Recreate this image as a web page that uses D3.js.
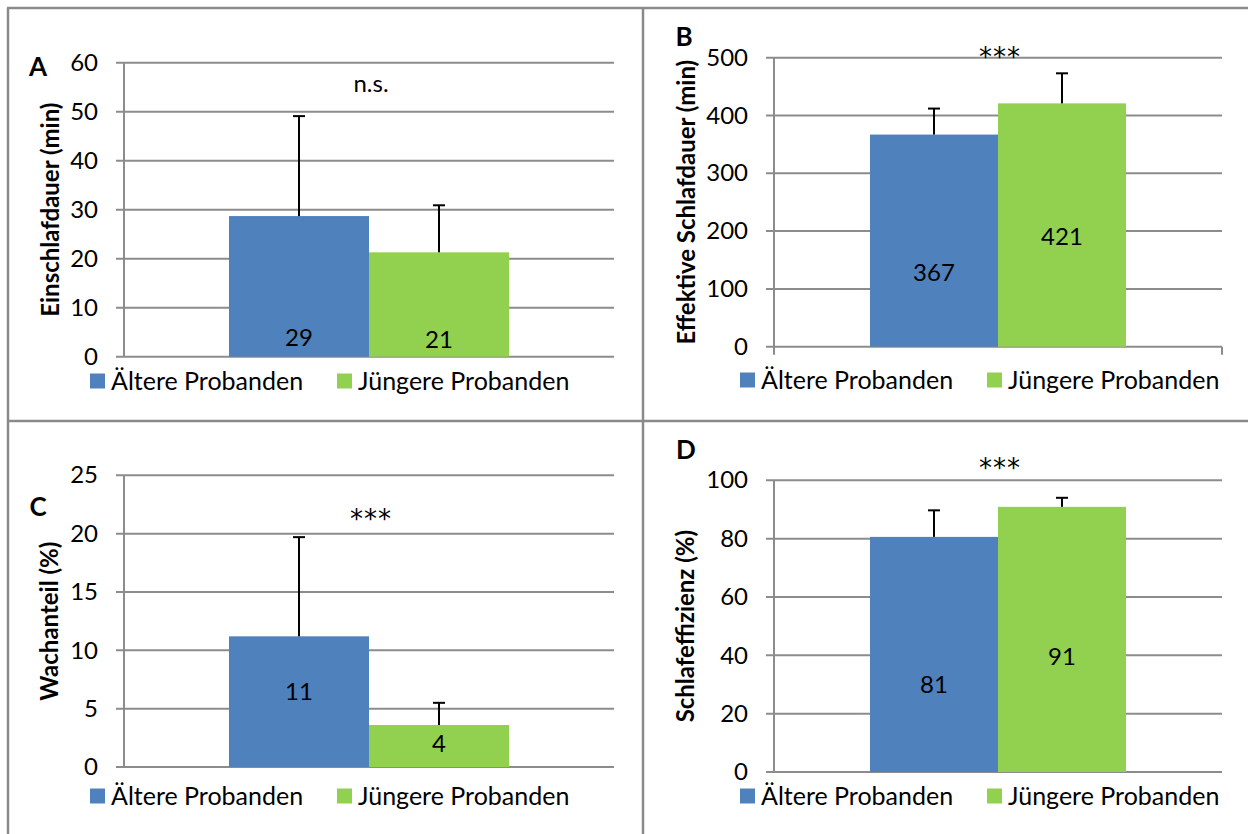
<!DOCTYPE html>
<html>
<head>
<meta charset="utf-8">
<script src="https://cdn.jsdelivr.net/npm/d3@7"></script>
<style>
  body { margin: 0; background: #fff; }
  svg { display: block; font-family: Lato, "Open Sans", sans-serif; }
</style>
</head>
<body>
<svg width="1248" height="834"></svg>
<script>
// data
const series = ["Ältere Probanden", "Jüngere Probanden"];
const colors = ["#4f81bd", "#92d050"];

const einschlafMean = [28.7, 21.3];
const einschlafSd = [20.4, 9.6];
const schlafdauerMean = [367, 421];
const schlafdauerSd = [45, 52];
const wachMean = [11.2, 3.6];
const wachSd = [8.5, 1.9];
const effizienzMean = [80.6, 90.9];
const effizienzSd = [9.1, 3.1];

const barLabels = [["29", "21"], ["367", "421"], ["11", "4"], ["81", "91"]];
const yTitles = ["Einschlafdauer (min)", "Effektive Schlafdauer (min)", "Wachanteil (%)", "Schlafeffizienz (%)"];
const letters = ["A", "B", "C", "D"];
const signif = ["n.s.", "***", "***", "***"];

// layout for each panel
const panels = [
  { mean: einschlafMean, sd: einschlafSd, max: 60, step: 10, x0: 124, x1: 614, yTop: 62.7, yBot: 356.7,
    titleX: 51, letterX: 38, letterY: 76, sigY: 92, labelUp: [19, 17], legendY: 381, catTicks: false },
  { mean: schlafdauerMean, sd: schlafdauerSd, max: 500, step: 100, x0: 774, x1: 1222, yTop: 57.7, yBot: 346.7,
    titleX: 687, letterX: 684, letterY: 46, sigY: 66, labelUp: [74, 110], legendY: 380, catTicks: true },
  { mean: wachMean, sd: wachSd, max: 25, step: 5, x0: 124, x1: 614, yTop: 475.3, yBot: 767,
    titleX: 50, letterX: 38, letterY: 516, sigY: 528, labelUp: [75, 23], legendY: 796, catTicks: false },
  { mean: effizienzMean, sd: effizienzSd, max: 100, step: 20, x0: 774, x1: 1222, yTop: 480.3, yBot: 772,
    titleX: 686, letterX: 686, letterY: 459, sigY: 477, labelUp: [87, 115], legendY: 796, catTicks: false }
];

const svg = d3.select("svg");
svg.append("rect").attr("width", 1248).attr("height", 834).attr("fill", "#fff");

const gridColor = "#8c8c8c";
const fontSize = 24;

panels.forEach((p, i) => {
  const g = svg.append("g");
  const y = d3.scaleLinear().domain([0, p.max]).range([p.yBot, p.yTop]);
  const outer = d3.scaleBand().domain(["all"]).range([p.x0, p.x1]).padding(0.2727);
  const x = d3.scaleBand().domain(series).range([outer("all"), outer("all") + outer.bandwidth()]);
  const ticks = d3.range(0, p.max + p.step / 2, p.step);

  // gridlines
  g.selectAll(".grid")
    .data(ticks)
    .join("line")
    .attr("x1", p.x0 - 8)
    .attr("x2", p.x1)
    .attr("y1", (d) => y(d))
    .attr("y2", (d) => y(d))
    .attr("stroke", gridColor)
    .attr("stroke-width", 2);

  // vertical axis line
  g.append("line")
    .attr("x1", p.x0).attr("x2", p.x0)
    .attr("y1", y(p.max)).attr("y2", p.catTicks ? p.yBot + 8 : p.yBot)
    .attr("stroke", gridColor).attr("stroke-width", 2);
  if (p.catTicks) {
    g.append("line")
      .attr("x1", p.x1).attr("x2", p.x1)
      .attr("y1", p.yBot).attr("y2", p.yBot + 8)
      .attr("stroke", gridColor).attr("stroke-width", 2);
  }

  // tick labels
  const axis = g.append("g")
    .attr("transform", `translate(${p.x0},0)`)
    .call(d3.axisLeft(y).tickValues(ticks).tickSize(0).tickPadding(26).tickFormat(d3.format("d")));
  axis.select(".domain").remove();
  axis.selectAll("text")
    .attr("font-size", fontSize)
    .attr("font-family", "Lato")
    .attr("fill", "#000");

  // bars
  g.selectAll(".bar")
    .data(p.mean)
    .join("rect")
    .attr("x", (d, j) => x(series[j]))
    .attr("width", x.bandwidth())
    .attr("y", (d) => y(d))
    .attr("height", (d) => y(0) - y(d))
    .attr("fill", (d, j) => colors[j]);

  // error bars (upper only)
  p.mean.forEach((m, j) => {
    const cx = x(series[j]) + x.bandwidth() / 2;
    const top = y(m + p.sd[j]);
    g.append("line")
      .attr("x1", cx).attr("x2", cx)
      .attr("y1", y(m)).attr("y2", top)
      .attr("stroke", "#000").attr("stroke-width", 2);
    g.append("line")
      .attr("x1", cx - 6).attr("x2", cx + 6)
      .attr("y1", top).attr("y2", top)
      .attr("stroke", "#000").attr("stroke-width", 2);
  });

  // value labels
  g.selectAll(".lbl")
    .data(barLabels[i])
    .join("text")
    .attr("x", (d, j) => x(series[j]) + x.bandwidth() / 2)
    .attr("y", (d, j) => p.yBot - p.labelUp[j])
    .attr("dy", "0.35em")
    .attr("text-anchor", "middle")
    .attr("font-size", fontSize)
    .text((d) => d);

  // significance
  const stars = signif[i] !== "n.s.";
  g.append("text")
    .attr("x", outer("all") + outer.bandwidth() / 2 + 2)
    .attr("y", p.sigY)
    .attr("text-anchor", "middle")
    .attr("font-size", stars ? 26 : fontSize)
    .attr("font-family", stars ? "DejaVu Sans" : "Lato")
    .attr("letter-spacing", stars ? 1 : 0)
    .text(signif[i]);

  // panel letter
  g.append("text")
    .attr("x", p.letterX)
    .attr("y", p.letterY)
    .attr("text-anchor", "middle")
    .attr("font-size", 26)
    .attr("font-weight", "bold")
    .text(letters[i]);

  // y title
  g.append("text")
    .attr("transform", `translate(${p.titleX},${(p.yTop + p.yBot) / 2}) rotate(-90)`)
    .attr("text-anchor", "middle")
    .attr("dy", "0.35em")
    .attr("font-size", fontSize)
    .attr("font-weight", "bold")
    .text(yTitles[i]);

  // legend
  const legX = [p.x0 - 34, p.x0 + 213];
  series.forEach((s, j) => {
    g.append("rect")
      .attr("x", legX[j]).attr("y", p.legendY - 7.5)
      .attr("width", 15).attr("height", 15)
      .attr("fill", colors[j]);
    g.append("text")
      .attr("x", legX[j] + 21).attr("y", p.legendY)
      .attr("dy", "0.35em")
      .attr("font-size", 25)
      .text(s);
  });
});

// frame lines between the panels
const frame = svg.append("g").attr("stroke", "#8a8a8a").attr("stroke-width", 2.5);
frame.append("line").attr("x1", 7).attr("x2", 1248).attr("y1", 8).attr("y2", 8);
frame.append("line").attr("x1", 8).attr("x2", 8).attr("y1", 8).attr("y2", 834);
frame.append("line").attr("x1", 643).attr("x2", 643).attr("y1", 8).attr("y2", 834);
frame.append("line").attr("x1", 8).attr("x2", 1248).attr("y1", 421).attr("y2", 421);
</script>
</body>
</html>
